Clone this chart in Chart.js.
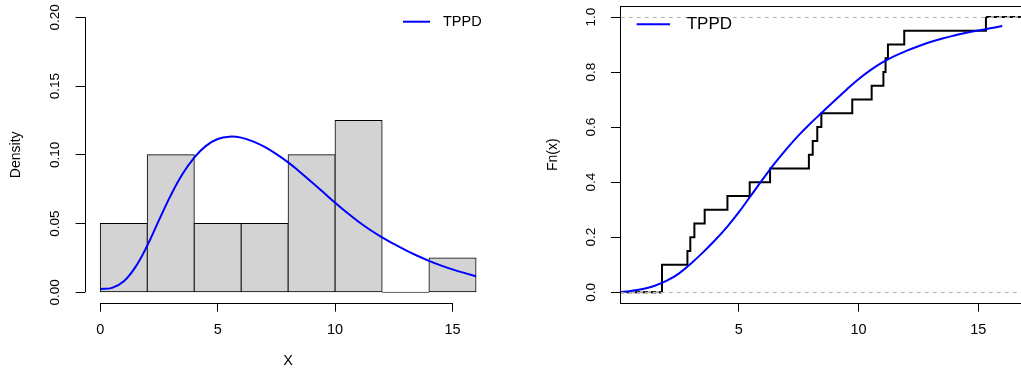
<!DOCTYPE html>
<html>
<head>
<meta charset="utf-8">
<script src="https://cdn.jsdelivr.net/npm/chart.js@4.4.1/dist/chart.umd.min.js"></script>
<style>
html,body{margin:0;padding:0;background:#fff;overflow:hidden;width:1021px;height:372px;}
#wrap{position:relative;width:1021px;height:372px;overflow:hidden;background:#fff;}
#c1{position:absolute;left:0;top:0;}
#c2{position:absolute;left:510px;top:0;}
</style>
</head>
<body>
<div id="wrap">
<canvas id="c1" width="510" height="372"></canvas>
<canvas id="c2" width="530" height="372"></canvas>
</div>
<script>
// ---------- data: histogram panel ----------
const binEdges = [0, 2, 4, 6, 8, 10, 12, 14, 16];
const binDensity = [0.05, 0.10, 0.05, 0.05, 0.10, 0.125, 0, 0.025];
const densX = [0, 0.5, 1, 1.5, 2, 2.5, 3, 3.5, 4, 4.5, 5, 5.5, 6, 6.5, 7, 7.5, 8, 8.5, 9, 9.5, 10, 10.5, 11, 11.5, 12, 12.5, 13, 13.5, 14, 14.5, 15, 15.5, 16];
const densY = [0.0024, 0.0032, 0.0080, 0.0185, 0.0340, 0.0525, 0.0705, 0.0860, 0.0980, 0.1065, 0.1115, 0.1132, 0.1125, 0.1098, 0.1057, 0.1005, 0.0945, 0.0875, 0.0802, 0.0727, 0.0652, 0.0580, 0.0513, 0.0453, 0.0400, 0.0352, 0.0307, 0.0266, 0.0229, 0.0196, 0.0167, 0.0141, 0.0117];
const histXTicks = [0, 5, 10, 15];
const histXTickLabels = ['0', '5', '10', '15'];
const histYTicks = [0, 0.05, 0.10, 0.15, 0.20];
const histYTickLabels = ['0.00', '0.05', '0.10', '0.15', '0.20'];

// ---------- data: ECDF panel ----------
const ecdfX = [1.80, 1.80, 2.86, 2.98, 3.15, 3.58, 4.53, 5.46, 6.31, 7.93, 8.09, 8.28, 8.45, 9.74, 10.55, 11.04, 11.13, 11.23, 11.91, 15.32];
const ecdfY = [0.00, 0.10, 0.15, 0.20, 0.25, 0.30, 0.35, 0.40, 0.45, 0.50, 0.55, 0.60, 0.65, 0.70, 0.75, 0.80, 0.85, 0.90, 0.95, 1.00];
const tailLeftX = [-1, 1.80];
const tailLeftY = [0, 0];
const tailRightX = [15.32, 18];
const tailRightY = [1, 1];
const cdfX = [0, 0.5, 1, 1.5, 2, 2.5, 3, 3.5, 4, 4.5, 5, 5.5, 6, 6.5, 7, 7.5, 8, 8.5, 9, 9.5, 10, 10.5, 11, 11.5, 12, 12.5, 13, 13.5, 14, 14.5, 15, 15.5, 16];
const cdfY = [0.000, 0.005, 0.012, 0.024, 0.042, 0.068, 0.104, 0.144, 0.188, 0.236, 0.290, 0.350, 0.410, 0.468, 0.521, 0.570, 0.614, 0.655, 0.696, 0.736, 0.774, 0.807, 0.835, 0.858, 0.877, 0.894, 0.909, 0.922, 0.933, 0.943, 0.951, 0.959, 0.967];
const refLevels = [0, 1];
const ecdfXTicks = [5, 10, 15];
const ecdfXTickLabels = ['5', '10', '15'];
const ecdfYTicks = [0, 0.2, 0.4, 0.6, 0.8, 1.0];
const ecdfYTickLabels = ['0.0', '0.2', '0.4', '0.6', '0.8', '1.0'];
const legendLabels = ['TPPD'];

const FONT = '"Liberation Sans", Arial, Helvetica, sans-serif';
Chart.defaults.font.family = FONT;
Chart.defaults.color = '#000';

const al = p => Math.round(p - 0.5) + 0.5;
const pts = (xs, ys) => xs.map((x, i) => ({x: x, y: ys[i]}));

const decorPlugin = {
  id: 'decor',
  afterDraw(chart, args, o) {
    const ctx = chart.ctx, a = chart.chartArea;
    const xs = chart.scales.x, ys = chart.scales.y;
    ctx.save();
    ctx.strokeStyle = '#000'; ctx.fillStyle = '#000'; ctx.lineWidth = 1;
    if (o.refLines) {
      ctx.save();
      ctx.strokeStyle = '#b3b3b3';
      ctx.setLineDash([4, 4]);
      o.refLines.forEach(v => {
        const py = al(ys.getPixelForValue(v));
        ctx.beginPath(); ctx.moveTo(a.left, py); ctx.lineTo(a.right, py); ctx.stroke();
      });
      ctx.restore();
    }
    if (o.axisLines) {
      const xt = xs.ticks, yt = ys.ticks;
      const by = al(a.bottom), lx = al(a.left);
      ctx.beginPath();
      ctx.moveTo(xs.getPixelForValue(xt[0].value), by);
      ctx.lineTo(xs.getPixelForValue(xt[xt.length - 1].value), by);
      ctx.moveTo(lx, ys.getPixelForValue(yt[0].value));
      ctx.lineTo(lx, ys.getPixelForValue(yt[yt.length - 1].value));
      ctx.stroke();
    }
    if (o.frame) {
      ctx.strokeRect(al(a.left), al(a.top), al(a.right) - al(a.left), al(a.bottom) - al(a.top));
    }
    // rotated y tick labels
    ctx.font = o.yFont + 'px ' + FONT;
    ctx.textAlign = 'center'; ctx.textBaseline = 'middle';
    ys.ticks.forEach((t, i) => {
      ctx.save();
      ctx.translate(a.left - o.yLabelOffset, ys.getPixelForValue(t.value));
      ctx.rotate(-Math.PI / 2);
      ctx.fillText(o.yLabels[i], 0, 0);
      ctx.restore();
    });
    // legend
    const L = o.legend;
    ctx.strokeStyle = '#0000ff'; ctx.lineWidth = 2;
    ctx.beginPath(); ctx.moveTo(L.x1, L.y); ctx.lineTo(L.x2, L.y); ctx.stroke();
    ctx.font = L.size + 'px ' + FONT;
    ctx.textAlign = 'left'; ctx.textBaseline = 'middle';
    ctx.fillText(chart.data.datasets[0].label, L.tx, L.y + 0.5);
    ctx.restore();
  }
};

// ---------- left: histogram + density ----------
new Chart(document.getElementById('c1'), {
  type: 'bar',
  data: {
    datasets: [
      {
        type: 'line', label: legendLabels[0], data: pts(densX, densY),
        borderColor: '#0000ff', borderWidth: 2, pointRadius: 0,
        tension: 0.4, fill: false, order: 0
      },
      {
        type: 'bar', label: 'hist',
        data: binDensity.map((d, i) => ({x: (binEdges[i] + binEdges[i + 1]) / 2, y: d})),
        backgroundColor: '#d3d3d3', borderColor: '#000', borderWidth: 1,
        borderSkipped: false, barPercentage: 1, categoryPercentage: 1,
        inflateAmount: c => (binDensity[c.dataIndex] === 0 ? 0 : 0.5),
        minBarLength: 1, order: 1
      }
    ]
  },
  options: {
    responsive: false, animation: false, devicePixelRatio: 1,
    layout: {padding: {left: 0, right: 19, top: 6.3, bottom: 0}},
    plugins: {
      legend: {display: false}, tooltip: {enabled: false},
      decor: {axisLines: true, yLabels: histYTickLabels, yLabelOffset: 30.3, yFont: 13.5,
              legend: {x1: 403, x2: 430, y: 21.7, tx: 443, size: 14.5}}
    },
    scales: {
      x: {
        type: 'linear', min: -0.64, max: 16.64, offset: false,
        grid: {display: true, offset: false, drawOnChartArea: false, drawTicks: true, tickLength: 8.3, color: '#000', lineWidth: 1},
        border: {display: false},
        ticks: {font: {size: 14.5}, color: '#000', padding: 9.3, maxRotation: 0, autoSkip: false,
                callback: (v, i) => histXTickLabels[i]},
        afterBuildTicks: s => { s.ticks = histXTicks.map(v => ({value: v})); },
        afterFit: s => { s.height = 68.7; },
        title: {display: true, text: 'X', font: {size: 14.5}, color: '#000', padding: {top: 0, bottom: 1.9}}
      },
      y: {
        type: 'linear', min: -0.008, max: 0.208,
        grid: {display: true, drawOnChartArea: false, drawTicks: true, tickLength: 9.7, color: '#000', lineWidth: 1},
        border: {display: false},
        ticks: {display: false},
        afterBuildTicks: s => { s.ticks = histYTicks.map(v => ({value: v})); },
        afterFit: s => { s.width = 85.3; },
        title: {display: true, text: 'Density', font: {size: 14}, color: '#000', padding: {top: 7.6, bottom: 0}}
      }
    }
  },
  plugins: [decorPlugin]
});

// ---------- right: ECDF + fitted CDF ----------
new Chart(document.getElementById('c2'), {
  type: 'line',
  data: {
    datasets: [
      {label: legendLabels[0], data: pts(cdfX, cdfY), borderColor: '#0000ff', borderWidth: 2, pointRadius: 0,
       tension: 0.4, fill: false, order: 0, clip: 0},
      {label: 'ecdf', data: pts(ecdfX, ecdfY), borderColor: '#000', borderWidth: 2, pointRadius: 0,
       stepped: true, fill: false, order: 1, clip: 0},
      {label: 'tailL', data: pts(tailLeftX, tailLeftY), borderColor: '#000', borderWidth: 2, borderDash: [5, 3],
       pointRadius: 0, fill: false, order: 2, clip: 0},
      {label: 'tailR', data: pts(tailRightX, tailRightY), borderColor: '#000', borderWidth: 2, borderDash: [5, 3],
       pointRadius: 0, fill: false, order: 2, clip: 0},
      {label: 'tailLg', data: pts(tailLeftX, tailLeftY), borderColor: '#a6a6a6', borderWidth: 2,
       pointRadius: 0, fill: false, order: 3, clip: 0},
      {label: 'tailRg', data: pts(tailRightX, tailRightY), borderColor: '#a6a6a6', borderWidth: 2,
       pointRadius: 0, fill: false, order: 3, clip: 0}
    ]
  },
  options: {
    responsive: false, animation: false, devicePixelRatio: 1,
    layout: {padding: {left: 0, right: 13.1, top: 6, bottom: 0}},
    plugins: {
      legend: {display: false}, tooltip: {enabled: false},
      decor: {frame: true, refLines: refLevels, yLabels: ecdfYTickLabels, yLabelOffset: 29, yFont: 13.5,
              legend: {x1: 126.7, x2: 160, y: 24.3, tx: 176.7, size: 17}}
    },
    scales: {
      x: {
        type: 'linear', min: 0.075, max: 17.03, offset: false,
        grid: {display: true, offset: false, drawOnChartArea: false, drawTicks: true, tickLength: 8.3, color: '#000', lineWidth: 1},
        border: {display: false},
        ticks: {font: {size: 14.5}, color: '#000', padding: 9.3, maxRotation: 0, autoSkip: false,
                callback: (v, i) => ecdfXTickLabels[i]},
        afterBuildTicks: s => { s.ticks = ecdfXTicks.map(v => ({value: v})); },
        afterFit: s => { s.height = 68.7; }
      },
      y: {
        type: 'linear', min: -0.04, max: 1.04,
        grid: {display: true, drawOnChartArea: false, drawTicks: true, tickLength: 9.7, color: '#000', lineWidth: 1},
        border: {display: false},
        ticks: {display: false},
        afterBuildTicks: s => { s.ticks = ecdfYTicks.map(v => ({value: v})); },
        afterFit: s => { s.width = 110.7; },
        title: {display: true, text: 'Fn(x)', font: {size: 14}, color: '#000', padding: {top: 34.3, bottom: 0}}
      }
    }
  },
  plugins: [decorPlugin]
});
</script>
</body>
</html>
